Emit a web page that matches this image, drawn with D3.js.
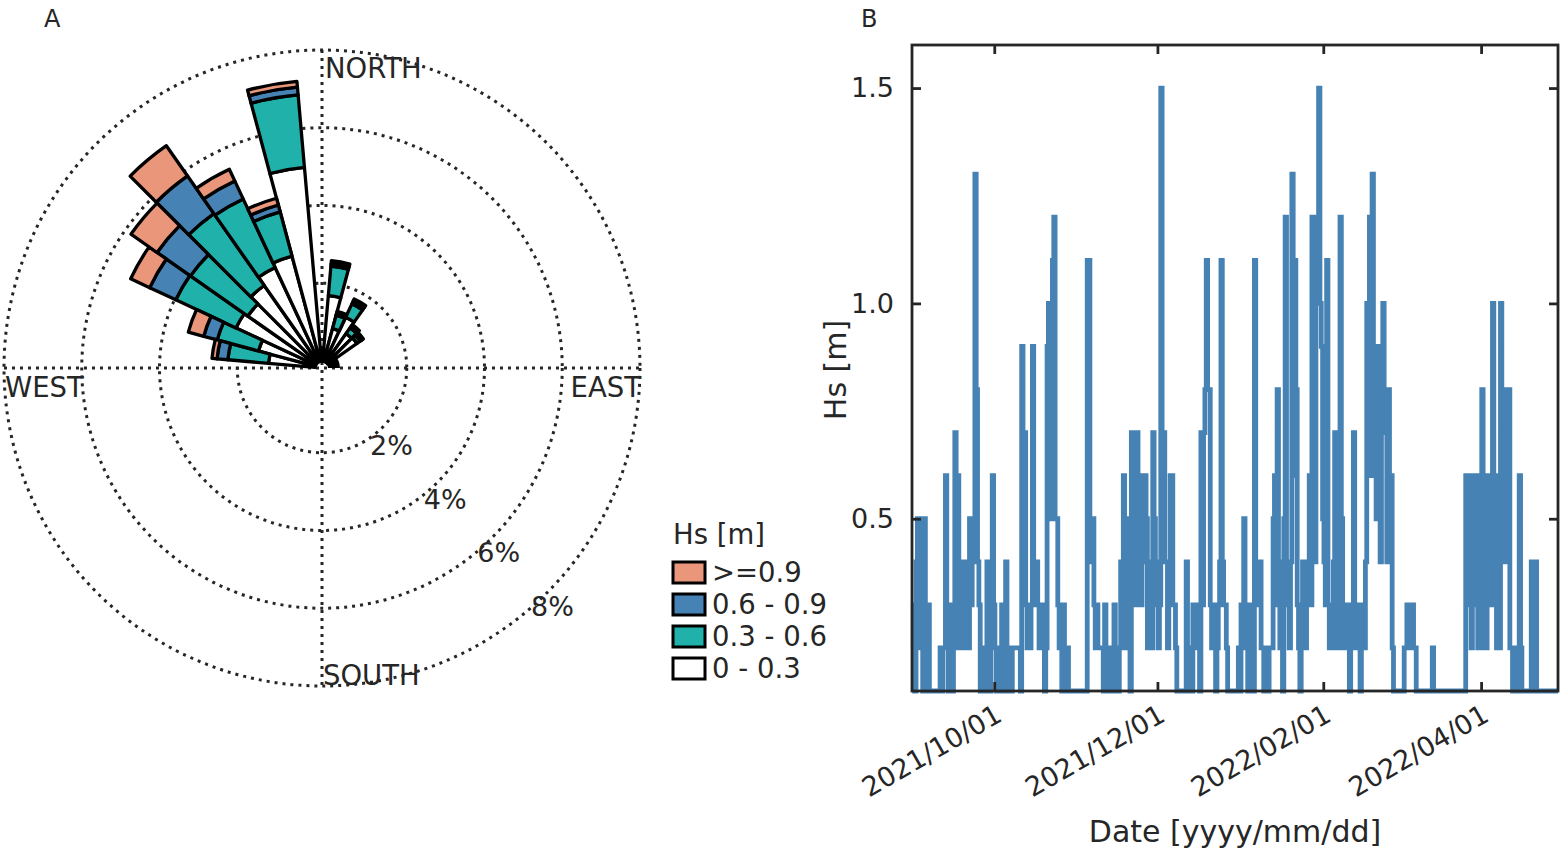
<!DOCTYPE html>
<html><head><meta charset="utf-8">
<script src="https://cdn.jsdelivr.net/npm/d3@7"></script>
<style>
body{margin:0;background:#fff;}
text{font-family:"DejaVu Sans",sans-serif;fill:#262626;}
</style>
</head><body>
<svg id="chart" width="1563" height="852"></svg>
<script>
// ---------- Panel A: wind/wave rose data (frequency in %) ----------
const roseDirections = [280, 290, 300, 310, 320, 330, 340, 350, 10, 20, 30, 40, 50];
const freq00_03 = [1.20, 1.51, 2.26, 2.15, 2.41, 2.67, 2.80, 5.00, 1.69, 0.87, 1.26, 0.90, 0.92];
const freq03_06 = [1.05, 1.10, 1.71, 1.80, 2.26, 1.95, 1.18, 1.87, 0.76, 0.36, 0.38, 0.18, 0.10];
const freq06_09 = [0.28, 0.36, 0.74, 1.05, 1.18, 0.51, 0.18, 0.20, 0.06, 0.05, 0.08, 0.05, 0.05];
const freq09up  = [0.13, 0.41, 0.54, 0.82, 0.95, 0.33, 0.18, 0.15, 0.08, 0.05, 0.06, 0.05, 0.05];
const classLabels = ["0 - 0.3", "0.3 - 0.6", "0.6 - 0.9", ">=0.9"];
const classColors = ["#ffffff", "#20b2aa", "#4682b4", "#e9967a"];
const ringTicks = [2, 4, 6, 8];
const compassLabels = ["NORTH", "EAST", "SOUTH", "WEST"];
const legendTitle = "Hs [m]";

// ---------- Panel B: Hs time series (12-hourly samples) ----------
const seriesStart = "2021-08-31T06:00:00";
const seriesStepHours = 12;
const hsValues = [
.2,.3,.1,.4,.5,.2,.5,.4,.1,.5,
.3,.1,.3,.1,.1,.1,.1,.1,.1,.1,
.1,.2,.1,.2,.2,.6,.3,.1,.2,.3,
.1,.2,.7,.3,.6,.2,.4,.3,.4,.2,
.3,.4,.2,.5,.3,.5,.4,1.3,.8,.4,
.3,.1,.2,.1,.2,.1,.4,.2,.1,.2,
.6,.3,.2,.1,.2,.1,.2,.3,.1,.3,
.4,.2,.1,.2,.1,.2,.2,.2,.2,.2,
.2,.1,.9,.7,.7,.3,.2,.3,.2,.3,
.9,.4,.3,.4,.3,.2,.3,.2,.3,.1,
.2,.9,1.0,.5,1.0,1.1,1.2,.5,.5,.3,
.2,.2,.1,.3,.2,.1,.2,.1,.1,.1,
.1,.1,.1,.1,.1,.1,.1,.1,.1,.1,
.1,1.1,1.1,.5,.4,.5,.3,.2,.3,.2,
.2,.2,.2,.1,.3,.2,.2,.1,.2,.2,
.1,.3,.2,.1,.1,.2,.4,.2,.6,.4,
.5,.2,.3,.1,.7,.5,.7,.3,.7,.6,
.5,.3,.6,.4,.6,.5,.2,.4,.3,.2,
.7,.5,.4,.3,.2,.3,1.5,.7,.7,.4,
.4,.2,.3,.6,.6,.3,.3,.2,.1,.1,
.1,.1,.1,.1,.1,.4,.2,.1,.2,.1,
.3,.3,.2,.3,.2,.1,.7,.3,.7,.8,
1.1,.8,.8,.3,.2,.3,.2,.1,.2,.3,
.4,1.1,.4,.3,.3,.2,.1,.1,.1,.1,
.1,.1,.1,.1,.2,.1,.3,.2,.5,.3,
.2,.1,.3,.2,.2,.1,1.1,.3,.4,.3,
.4,.2,.2,.1,.2,.2,.1,.2,.2,.2,
.5,.6,.3,.8,.4,.2,.3,.1,.5,1.2,
.4,.3,.2,.4,1.3,.6,1.1,.8,.3,.2,
.1,.2,.4,.3,.2,.3,.4,.6,.3,1.2,
.8,.4,1.1,1.2,1.5,1.0,.9,.5,.4,.3,
1.1,.3,.2,.3,.2,.4,.7,.2,.3,.2,
1.2,.5,.3,.2,.3,.2,.2,.1,.3,.2,
.7,.3,.2,.3,.2,.1,.3,.3,.2,.4,
1.0,.6,1.2,.8,1.3,.6,.8,.5,.9,.6,
.4,.8,1.0,.7,.8,.4,.8,.6,.6,.2,
.1,.1,.1,.1,.1,.1,.1,.1,.2,.2,
.3,.3,.3,.2,.3,.2,.2,.1,.1,.1,
.1,.1,.1,.1,.1,.1,.1,.1,.1,.2,
.1,.1,.1,.1,.1,.1,.1,.1,.1,.1,
.1,.1,.1,.1,.1,.1,.1,.1,.1,.1,
.1,.1,.1,.1,.6,.3,.6,.6,.2,.6,
.6,.3,.6,.2,.6,.2,.8,.4,.6,.2,
.6,.3,.6,.4,1.0,.3,.6,.2,.4,.2,
1.0,.8,.8,.4,.8,.8,.8,.2,.2,.1,
.2,.2,.1,.2,.6,.2,.1,.1,.1,.1,
.1,.1,.1,.4,.1,.1,.4,.1,.1,.1,
.1,.1,.1,.1,.1,.1,.1,.1,.1,.1,
.1,.1,.1,.1
];
const dateTicks = ["2021-10-01", "2021-12-01", "2022-02-01", "2022-04-01"];
const hsTicks = [0.5, 1.0, 1.5];
const xAxisTitle = "Date [yyyy/mm/dd]";
const yAxisTitle = "Hs [m]";

// ================= drawing =================
(function () {
const svg = d3.select("#chart");
const ink = "#262626";
const fs = 27;
const fsTitle = 30;

// ---------- Panel A ----------
const cx = 322, cy = 368;
const rScale = d3.scaleLinear().domain([0, 8]).range([7, 318]);
const gA = svg.append("g").attr("transform", `translate(${cx},${cy})`);
const dots = g => g.attr("stroke", ink).attr("stroke-width", 3).attr("stroke-dasharray", "3,5").attr("fill", "none");

ringTicks.forEach(t => { gA.append("circle").attr("r", rScale(t)).call(dots); });
const R = rScale(8);
gA.append("line").attr("x1", 0).attr("x2", 0).attr("y1", -R).attr("y2", R).call(dots);
gA.append("line").attr("x1", -R).attr("x2", R).attr("y1", 0).attr("y2", 0).call(dots);

const roseRows = roseDirections.map((d, i) => ({
  dir: d, c0: freq00_03[i], c1: freq03_06[i], c2: freq06_09[i], c3: freq09up[i]
}));
const stacked = d3.stack().keys(["c0", "c1", "c2", "c3"])(roseRows);
const halfBin = 5 * Math.PI / 180;
const arc = d3.arc();
stacked.forEach((layer, li) => {
  gA.append("g").selectAll("path").data(layer).join("path")
    .attr("d", d => arc({
      innerRadius: rScale(d[0]), outerRadius: rScale(d[1]),
      startAngle: d.data.dir * Math.PI / 180 - halfBin,
      endAngle: d.data.dir * Math.PI / 180 + halfBin
    }))
    .attr("fill", classColors[li]).attr("stroke", "#000")
    .attr("stroke-width", 3.3).attr("stroke-linejoin", "round");
});
// dark hub where the sector outlines converge
gA.append("path").attr("d", arc({
  innerRadius: rScale(0) - 1, outerRadius: rScale(0) + 11,
  startAngle: -Math.PI / 2, endAngle: Math.PI / 2
})).attr("fill", "#000");

gA.append("text").text(compassLabels[0]).attr("x", 3).attr("y", -R + 28).attr("font-size", fs + 0.5);
gA.append("text").text(compassLabels[1]).attr("x", R + 1).attr("y", 29).attr("text-anchor", "end").attr("font-size", fs + 0.5);
gA.append("text").text(compassLabels[2]).attr("x", 1).attr("y", R - 1).attr("font-size", fs + 0.5);
gA.append("text").text(compassLabels[3]).attr("x", -R + 1).attr("y", 29).attr("font-size", fs + 0.5);

ringTicks.forEach(t => {
  const rr = rScale(t);
  gA.append("text").text(t + "%")
    .attr("x", 0.69 * rr + 11).attr("y", 0.69 * rr + 19)
    .attr("text-anchor", "middle").attr("dominant-baseline", "central").attr("font-size", fs);
});

const lg = svg.append("g");
lg.append("text").text(legendTitle).attr("x", 673).attr("y", 544).attr("font-size", fs + 0.5);
const legendOrder = [3, 2, 1, 0];
legendOrder.forEach((ci, k) => {
  const y0 = 562 + k * 32;
  lg.append("rect").attr("x", 673).attr("y", y0).attr("width", 32).attr("height", 21)
    .attr("fill", classColors[ci]).attr("stroke", "#000").attr("stroke-width", 3);
  lg.append("text").text(classLabels[ci]).attr("x", 712).attr("y", y0 + 20).attr("font-size", fs + 0.5);
});

svg.append("text").text("A").attr("x", 44).attr("y", 27).attr("font-size", 24);
svg.append("text").text("B").attr("x", 861).attr("y", 27).attr("font-size", 24);

// ---------- Panel B ----------
const pLeft = 912, pRight = 1558, pTop = 45, pBottom = 691;
const t0 = new Date(seriesStart);
const series = hsValues.map((v, i) => ({
  date: new Date(t0.getTime() + i * seriesStepHours * 3600 * 1000), hs: v
}));
const x = d3.scaleTime().domain(d3.extent(series, d => d.date)).range([pLeft, pRight]);
const y = d3.scaleLinear().domain([0.1, 1.6]).range([pBottom, pTop]);

const line = d3.line().x(d => x(d.date)).y(d => y(d.hs)).curve(d3.curveStepAfter);
svg.append("path").datum(series).attr("d", line).attr("fill", "none")
  .attr("stroke", "#4682b4").attr("stroke-width", 4.8).attr("stroke-linejoin", "miter");

svg.append("rect").attr("x", pLeft).attr("y", pTop).attr("width", pRight - pLeft).attr("height", pBottom - pTop)
  .attr("fill", "none").attr("stroke", ink).attr("stroke-width", 2.8);

const tickDates = dateTicks.map(s => new Date(s + "T00:00:00"));
const fmt = d3.timeFormat("%Y/%m/%d");
const axB = d3.axisBottom(x).tickValues(tickDates).tickSizeInner(-9).tickSizeOuter(0).tickFormat(fmt);
const gx = svg.append("g").attr("transform", `translate(0,${pBottom})`).call(axB);
gx.select(".domain").remove();
gx.selectAll(".tick line").attr("stroke", ink).attr("stroke-width", 2.8);
gx.selectAll(".tick text").attr("font-size", fs).attr("fill", ink).attr("font-family", "DejaVu Sans")
  .attr("text-anchor", "end").attr("dy", null)
  .attr("transform", "translate(9,29) rotate(-30)").attr("y", 0).attr("x", 0);
const axT = d3.axisTop(x).tickValues(tickDates).tickSizeInner(-9).tickSizeOuter(0).tickFormat("");
const gxt = svg.append("g").attr("transform", `translate(0,${pTop})`).call(axT);
gxt.select(".domain").remove();
gxt.selectAll(".tick line").attr("stroke", ink).attr("stroke-width", 2.8);

const axL = d3.axisLeft(y).tickValues(hsTicks).tickSizeInner(-9).tickSizeOuter(0).tickFormat(d3.format(".1f"));
const gy = svg.append("g").attr("transform", `translate(${pLeft},0)`).call(axL);
gy.select(".domain").remove();
gy.selectAll(".tick line").attr("stroke", ink).attr("stroke-width", 2.8);
gy.selectAll(".tick text").attr("font-size", fs).attr("fill", ink).attr("font-family", "DejaVu Sans").attr("x", -18);
const axR = d3.axisRight(y).tickValues(hsTicks).tickSizeInner(-9).tickSizeOuter(0).tickFormat("");
const gyr = svg.append("g").attr("transform", `translate(${pRight},0)`).call(axR);
gyr.select(".domain").remove();
gyr.selectAll(".tick line").attr("stroke", ink).attr("stroke-width", 2.8);

svg.append("text").text(xAxisTitle).attr("x", (pLeft + pRight) / 2).attr("y", 842)
  .attr("text-anchor", "middle").attr("font-size", fsTitle);
svg.append("text").text(yAxisTitle).attr("transform", `translate(846,${(pTop + pBottom) / 2 + 2}) rotate(-90)`)
  .attr("text-anchor", "middle").attr("font-size", fsTitle);
})();
</script>
</body></html>
